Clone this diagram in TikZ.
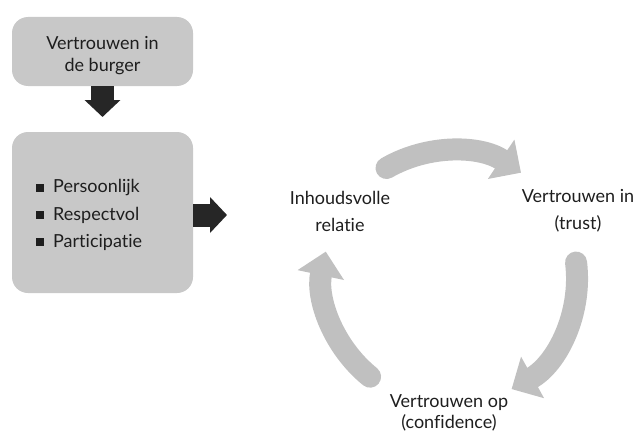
\documentclass[tikz,border=0pt]{standalone}
\usepackage{fontspec}
\setmainfont{Lato}[Ligatures=NoCommon]
\usetikzlibrary{arrows.meta}
\definecolor{boxgray}{RGB}{200,200,200}
\definecolor{arcgray}{RGB}{192,192,192}
\definecolor{txt}{RGB}{30,30,30}
\begin{document}
\begin{tikzpicture}[x=1pt,y=1pt,
  box/.style={fill=boxgray,rounded corners=16pt,inner sep=0pt},
  lbl/.style={align=center,font=\fontsize{18}{27}\selectfont,text=txt,inner sep=0pt},
  blockarrow/.style={draw=black!85,line width=23pt,-{Triangle[width=35pt,length=17pt]}},
  cyc/.style={draw=arcgray,line width=22pt,line cap=round,-{Triangle[width=46pt,length=24pt]}}
]
\useasboundingbox (0,0) rectangle (644,432);
\node[box,minimum width=181pt,minimum height=69pt] (top) at (102.5,380.5) {};
\node[lbl,font=\fontsize{18}{22}\selectfont] (toptxt) at (102.5,376) {Vertrouwen in\\de burger};
\node[box,minimum width=181pt,minimum height=161pt] (mid) at (102.5,219.5) {};
\foreach \y/\t/\n in {244/Persoonlijk/b1,217/Respectvol/b2,190/Participatie/b3}{
  \node[fill=txt,minimum size=7.5pt,inner sep=0pt] (s\n) at (40,\y) {};
  \node[lbl,anchor=west] (\n) at (53,\y) {\t};
}
\coordinate (dtip) at (102.5,315);
\draw[blockarrow] (top.south) -- (dtip);
\coordinate (rtip) at (227,217);
\draw[blockarrow] (mid.east |- rtip) -- (rtip);

\node[lbl] (rel) at (340,221) {Inhoudsvolle\\relatie};
\node[lbl] (trust) at (578,221) {Vertrouwen in\\(trust)};
\node[lbl,font=\fontsize{18}{21}\selectfont] (conf) at (449,19) {Vertrouwen op\\(confidence)};

\coordinate (c) at (450,154);
\draw[cyc] ([shift={(120:127pt)}]c) arc[start angle=120,end angle=56,radius=127pt];
\draw[cyc] ([shift={(7:127pt)}]c) arc[start angle=7,end angle=-61,radius=127pt];
\draw[cyc] ([shift={(231:127pt)}]c) arc[start angle=231,end angle=168,radius=127pt];
\end{tikzpicture}
\end{document}
